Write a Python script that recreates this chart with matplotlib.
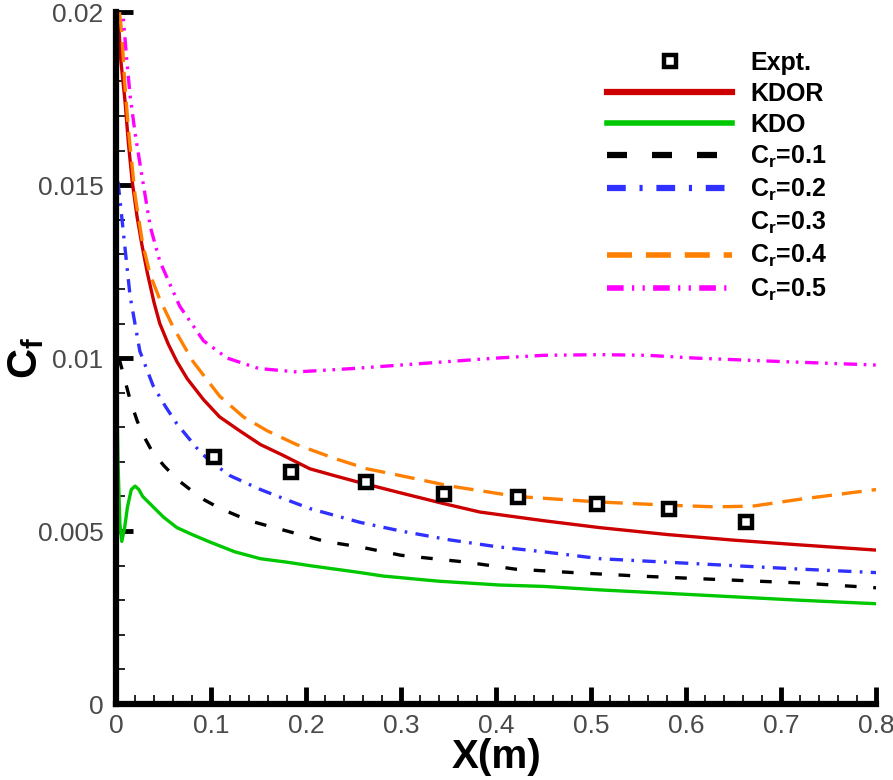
import matplotlib
matplotlib.use("Agg")
import matplotlib.pyplot as plt
from matplotlib.lines import Line2D
from matplotlib.ticker import MultipleLocator

plt.rcParams['font.family'] = ['Liberation Sans', 'DejaVu Sans']
plt.rcParams['mathtext.fontset'] = 'custom'
plt.rcParams['mathtext.rm'] = 'Liberation Sans:bold'
plt.rcParams['mathtext.it'] = 'Liberation Sans:bold'
plt.rcParams['mathtext.bf'] = 'Liberation Sans:bold'

# experiment
x_expt = [0.103, 0.184, 0.263, 0.345, 0.423, 0.506, 0.582, 0.663]
cf_expt = [0.00714, 0.00671, 0.00642, 0.00607, 0.00598, 0.00578, 0.00564, 0.00526]

# KDOR
x_kdor = [0.002, 0.005, 0.0095, 0.013, 0.017, 0.022, 0.027, 0.033, 0.040, 0.046, 0.055, 0.064,
          0.075, 0.092, 0.109, 0.13, 0.152, 0.175, 0.204, 0.23, 0.257, 0.30, 0.344, 0.383,
          0.45, 0.509, 0.58, 0.649, 0.72, 0.80]
cf_kdor = [0.0200, 0.0186, 0.0174, 0.0162, 0.0151, 0.0141, 0.0133, 0.01245, 0.0116, 0.0110, 0.0104, 0.0099,
           0.0094, 0.0088, 0.0083, 0.0079, 0.0075, 0.0072, 0.0068, 0.0066, 0.0064, 0.0061, 0.0058, 0.00555,
           0.0053, 0.0051, 0.0049, 0.00474, 0.0046, 0.00445]

# KDO
x_kdo = [0.0005, 0.002, 0.004, 0.006, 0.009, 0.012, 0.016, 0.020, 0.024, 0.028, 0.039, 0.05,
         0.064, 0.08, 0.099, 0.125, 0.152, 0.18, 0.204, 0.257, 0.281, 0.34, 0.404, 0.45,
         0.509, 0.58, 0.65, 0.72, 0.80]
cf_kdo = [0.0095, 0.0070, 0.0052, 0.0047, 0.0051, 0.0057, 0.0062, 0.0063, 0.0062, 0.0060, 0.0057, 0.0054,
          0.0051, 0.0049, 0.00468, 0.0044, 0.0042, 0.0041, 0.0040, 0.0038, 0.0037, 0.00355, 0.00344, 0.0034,
          0.0033, 0.0032, 0.0031, 0.0030, 0.0029]

# Cr = 0.1
x_cr01 = [0.003, 0.006, 0.0147, 0.022, 0.028, 0.038, 0.05, 0.064, 0.078, 0.093, 0.109, 0.14,
          0.18, 0.22, 0.257, 0.30, 0.369, 0.42, 0.481, 0.55, 0.633, 0.72, 0.80]
cf_cr01 = [0.0100, 0.0097, 0.0088, 0.0082, 0.0078, 0.0073, 0.0069, 0.0065, 0.0062, 0.0059, 0.00566, 0.0053,
           0.0050, 0.0047, 0.00454, 0.0043, 0.0041, 0.0039, 0.0038, 0.0037, 0.0036, 0.0035, 0.00336]

# Cr = 0.2
x_cr02 = [0.002, 0.004, 0.0074, 0.0147, 0.025, 0.039, 0.052, 0.064, 0.088, 0.10, 0.12, 0.152,
          0.18, 0.204, 0.257, 0.30, 0.35, 0.40, 0.45, 0.51, 0.58, 0.65, 0.72, 0.80]
cf_cr02 = [0.0151, 0.0146, 0.0137, 0.0118, 0.0102, 0.0092, 0.0086, 0.0081, 0.0073, 0.0070, 0.0066, 0.0062,
           0.0059, 0.00565, 0.00525, 0.0050, 0.00475, 0.00455, 0.0044, 0.0042, 0.0041, 0.0040, 0.0039, 0.0038]

# Cr = 0.4
x_cr04 = [0.0035, 0.006, 0.009, 0.013, 0.02, 0.028, 0.036, 0.046, 0.06, 0.081, 0.095, 0.109,
          0.134, 0.159, 0.19, 0.23, 0.264, 0.30, 0.352, 0.422, 0.509, 0.58, 0.63, 0.67,
          0.72, 0.76, 0.80]
cf_cr04 = [0.0200, 0.0194, 0.0180, 0.0166, 0.0147, 0.0133, 0.0124, 0.0117, 0.0109, 0.0099, 0.0094, 0.0089,
           0.0083, 0.0079, 0.0075, 0.0071, 0.0068, 0.0066, 0.0063, 0.0060, 0.00584, 0.00575, 0.0057, 0.00572,
           0.00592, 0.00606, 0.0062]

# Cr = 0.5
x_cr05 = [0.003, 0.0074, 0.011, 0.0147, 0.02, 0.027, 0.036, 0.046, 0.067, 0.092, 0.117, 0.15,
          0.19, 0.25, 0.30, 0.35, 0.40, 0.45, 0.51, 0.56, 0.61, 0.70, 0.80]
cf_cr05 = [0.0205, 0.0199, 0.0187, 0.0176, 0.0165, 0.0153, 0.0138, 0.0128, 0.0115, 0.0105, 0.0100, 0.0097,
           0.0096, 0.0097, 0.0098, 0.0099, 0.0100, 0.01008, 0.0101, 0.01008, 0.0100, 0.0099, 0.0098]

x_ticks = [0, 0.1, 0.2, 0.3, 0.4, 0.5, 0.6, 0.7, 0.8]
x_tick_labels = ['0', '0.1', '0.2', '0.3', '0.4', '0.5', '0.6', '0.7', '0.8']
y_ticks = [0, 0.005, 0.01, 0.015, 0.02]
y_tick_labels = ['0', '0.005', '0.01', '0.015', '0.02']

fig = plt.figure(figsize=(8.93, 7.8), dpi=100)
ax = fig.add_axes([0.130, 0.0974, 0.851, 0.887])

red, green, blue, orange, magenta = '#cc0000', '#00c800', '#3030ff', '#ff8000', '#ff00ff'
lw = 2.4
ax.plot(x_kdor, cf_kdor, color=red, lw=lw)
ax.plot(x_kdo, cf_kdo, color=green, lw=lw)
ax.plot(x_cr01, cf_cr01, color='black', lw=lw, dashes=(3.5, 5))
ax.plot(x_cr02, cf_cr02, color=blue, lw=lw, dashes=(4, 2.5, 0.8, 2.5))
ax.plot(x_cr04, cf_cr04, color=orange, lw=lw, dashes=(6, 3))
ax.plot(x_cr05, cf_cr05, color=magenta, lw=lw, dashes=(4, 2, 0.8, 2, 0.8, 2))
ax.plot(x_expt, cf_expt, 's', ms=8, mfc='white', mec='black', mew=3.2, ls='none')

ax.set_xlim(0, 0.8)
ax.set_ylim(0, 0.02)
ax.set_xticks(x_ticks, x_tick_labels)
ax.set_yticks(y_ticks, y_tick_labels)
ax.xaxis.set_minor_locator(MultipleLocator(0.02))
ax.yaxis.set_minor_locator(MultipleLocator(0.001))

for s in ['top', 'right']:
    ax.spines[s].set_visible(False)
for s in ['left', 'bottom']:
    ax.spines[s].set_linewidth(4.5)

ax.tick_params(which='major', direction='in', length=12, width=3.5,
               labelsize=19, labelcolor='#4a4a4a', top=False, right=False)
ax.tick_params(which='minor', direction='in', length=6.5, width=1.2, top=False, right=False)
ax.tick_params(axis='y', which='major', pad=9)
ax.tick_params(axis='x', which='major', pad=7)

ax.set_xlabel('X(m)', fontsize=29, fontweight='bold', labelpad=0)
ax.set_ylabel('C$_f$', fontsize=30, fontweight='bold')
ax.yaxis.set_label_coords(-0.092, 0.5)

handles = [
    Line2D([], [], marker='s', ms=8, mfc='white', mec='black', mew=3.2, ls='none'),
    Line2D([], [], color=red, lw=4.5),
    Line2D([], [], color=green, lw=4),
    Line2D([], [], color='black', lw=4.5, dashes=(3.2, 4)),
    Line2D([], [], color=blue, lw=4.5, dashes=(3, 2.2, 0.5, 2.2)),
    Line2D([], [], color='none', lw=4.5),
    Line2D([], [], color=orange, lw=4, dashes=(4.5, 2.5)),
    Line2D([], [], color=magenta, lw=4, dashes=(3, 1.5, 0.4, 1.5, 0.4, 1.5)),
]
labels = ['Expt.', 'KDOR', 'KDO', 'C$_r$=0.1', 'C$_r$=0.2', 'C$_r$=0.3', 'C$_r$=0.4', 'C$_r$=0.5']
fig.legend(handles, labels, loc='upper left', bbox_to_anchor=(0.680, 0.935),
           frameon=False, prop={'weight': 'bold', 'size': 18}, numpoints=1,
           handlelength=5.0, handletextpad=0.72, labelspacing=0.28,
           borderpad=0, borderaxespad=0)

fig.savefig('out.png', dpi=100)
